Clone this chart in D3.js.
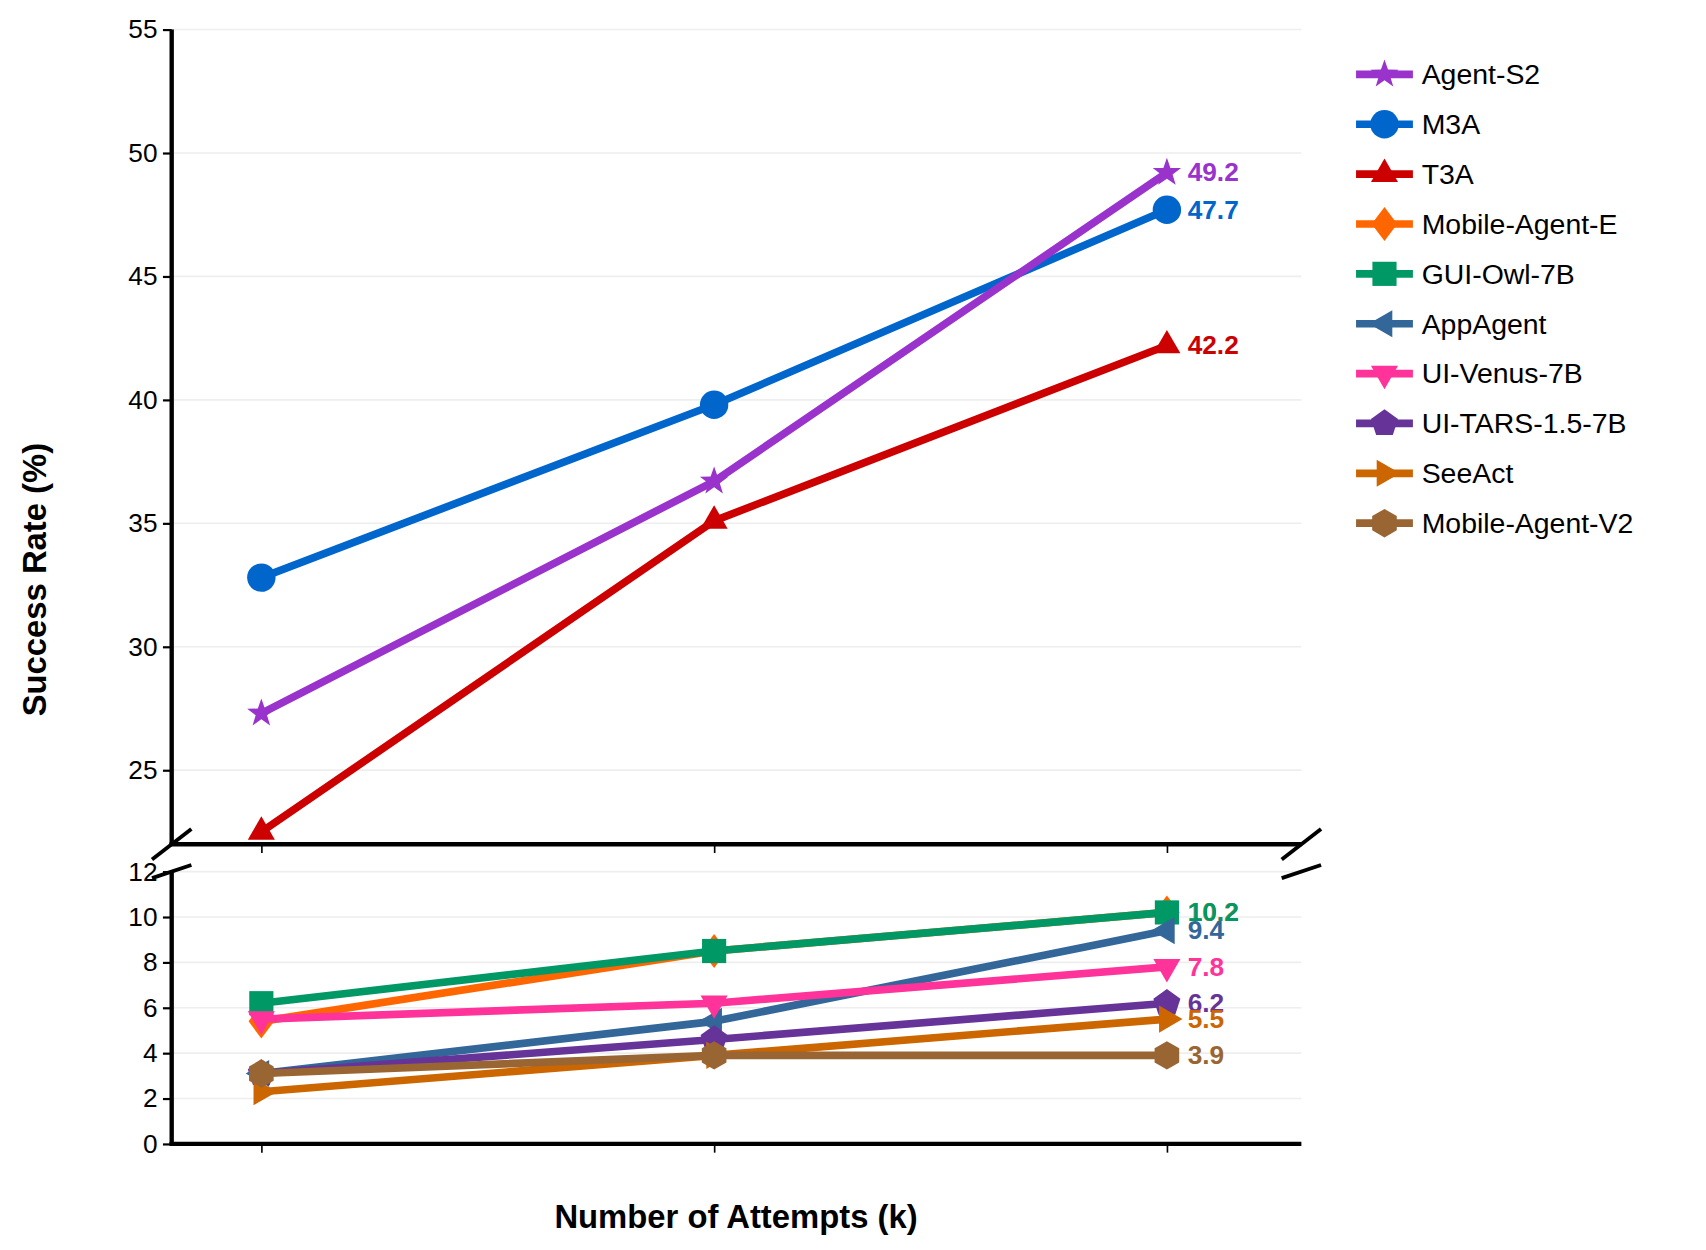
<!DOCTYPE html>
<html><head><meta charset="utf-8">
<script src="https://cdn.jsdelivr.net/npm/d3@7"></script>
<style>body{margin:0;background:#fff}svg{font-family:"Liberation Sans",Arial,sans-serif}</style>
</head><body><svg width="1706" height="1250"></svg>
<script>
const attempts = [1, 2, 3];
const names = ["Agent-S2","M3A","T3A","Mobile-Agent-E","GUI-Owl-7B","AppAgent","UI-Venus-7B","UI-TARS-1.5-7B","SeeAct","Mobile-Agent-V2"];
const colors = ["#9933cc","#0066cc","#cc0000","#ff6600","#009966","#336699","#ff3399","#663399","#cc6600","#996633"];
const values = [
  [27.3, 36.7, 49.2],
  [32.8, 39.8, 47.7],
  [22.5, 35.1, 42.2],
  [5.4, 8.5, 10.2],
  [6.2, 8.5, 10.2],
  [3.1, 5.4, 9.4],
  [5.5, 6.2, 7.8],
  [3.1, 4.6, 6.2],
  [2.3, 3.9, 5.5],
  [3.1, 3.9, 3.9]
];
const panel = [1, 1, 1, 0, 0, 0, 0, 0, 0, 0]; // 1 = upper panel
const shapes = ["star","circle","up","diamond","square","left","down","pent","right","hex"];
const topTicks = [25, 30, 35, 40, 45, 50, 55];
const botTicks = [0, 2, 4, 6, 8, 10, 12];

const S = 1706 / 1560;
const svg = d3.select("svg").append("g").attr("transform", `scale(${S})`);
const L = 157, R = 1190;
const x = d3.scaleLinear().domain([0.802, 3.297]).range([L, R]);
const yT = d3.scaleLinear().domain([22, 55]).range([772, 27]);
const yB = d3.scaleLinear().domain([0, 12]).range([1046, 797]);

function marker(s, r) {
  const poly = (n, rot) => d3.range(n).map(i => { const a = rot + i * 2 * Math.PI / n; return [r * Math.cos(a), r * Math.sin(a)]; });
  let pts;
  switch (s) {
    case "circle": return d3.symbol(d3.symbolCircle, Math.PI * r * r)();
    case "star": pts = d3.range(10).map(i => { const a = -Math.PI / 2 + i * Math.PI / 5, rr = i % 2 ? r * 0.42 : r * 1.05; return [rr * Math.cos(a), rr * Math.sin(a)]; }); break;
    case "up": pts = poly(3, -Math.PI / 2).map(p => [p[0] * 1.1, p[1] * 1.1]); break;
    case "down": pts = poly(3, Math.PI / 2).map(p => [p[0] * 1.1, p[1] * 1.1]); break;
    case "left": pts = poly(3, Math.PI).map(p => [p[0] * 1.1, p[1] * 1.1]); break;
    case "right": pts = poly(3, 0).map(p => [p[0] * 1.1, p[1] * 1.1]); break;
    case "diamond": pts = [[0, -r * 1.2], [r * 0.9, 0], [0, r * 1.2], [-r * 0.9, 0]]; break;
    case "square": pts = [[-r * 0.85, -r * 0.85], [r * 0.85, -r * 0.85], [r * 0.85, r * 0.85], [-r * 0.85, r * 0.85]]; break;
    case "pent": pts = poly(5, -Math.PI / 2); break;
    case "hex": pts = poly(6, -Math.PI / 2); break;
  }
  return "M" + pts.join("L") + "Z";
}

function drawPanel(y, ticks) {
  const g = svg.append("g");
  g.selectAll("line.grid").data(ticks).join("line")
    .attr("x1", L).attr("x2", R).attr("y1", d => y(d)).attr("y2", d => y(d))
    .attr("stroke", "#eeeeee").attr("stroke-width", 1.5);
  const ax = g.append("g").attr("transform", `translate(${L},0)`)
    .call(d3.axisLeft(y).tickValues(ticks).tickSize(8).tickSizeOuter(0));
  ax.select(".domain").remove();
  ax.selectAll("text").attr("font-size", 24).attr("fill", "#000").attr("dx", -2);
  ax.selectAll("line").attr("stroke-width", 2);
  const bx = g.append("g").attr("transform", `translate(0,${y.range()[0]})`)
    .call(d3.axisBottom(x).tickValues(attempts).tickSize(8).tickFormat(""));
  bx.select(".domain").remove();
  bx.selectAll("line").attr("stroke-width", 1.5);
  g.append("line").attr("x1", L).attr("x2", L).attr("y1", y.range()[1]).attr("y2", y.range()[0]).attr("stroke", "#000").attr("stroke-width", 4);
  g.append("line").attr("x1", L - 2).attr("x2", R).attr("y1", y.range()[0]).attr("y2", y.range()[0]).attr("stroke", "#000").attr("stroke-width", 4);
}
drawPanel(yT, topTicks);
drawPanel(yB, botTicks);

// break marks
[[L, 772], [L, 797], [R, 772], [R, 797]].forEach((p, i) => {
  const top = i % 2 === 0;
  svg.append("line")
    .attr("x1", p[0] - 18).attr("y1", p[1] + (top ? 14 : 6))
    .attr("x2", p[0] + 18).attr("y2", p[1] - (top ? 14 : 6))
    .attr("stroke", "#000").attr("stroke-width", 3.5);
});

const line = y => d3.line().x((d, i) => x(attempts[i])).y(d => y(d));
// upper series: Agent-S2 on top; lower series: later ones on top
const order = [2, 1, 0, 3, 4, 5, 6, 7, 8, 9];
order.forEach(k => {
  const y = panel[k] ? yT : yB;
  const g = svg.append("g");
  g.append("path").datum(values[k]).attr("d", line(y))
    .attr("fill", "none").attr("stroke", colors[k]).attr("stroke-width", 7).attr("stroke-linejoin", "round");
  g.selectAll("path.m").data(values[k]).join("path").attr("class", "m")
    .attr("transform", (d, i) => `translate(${x(attempts[i])},${y(d)})`)
    .attr("d", marker(shapes[k], 13)).attr("fill", colors[k]);
  const last = values[k][2];
  g.append("text").attr("x", x(3) + 19).attr("y", y(last) + 8)
    .attr("font-size", 24).attr("font-weight", "bold").attr("fill", colors[k]).text(last.toFixed(1));
});

// legend
const lg = svg.append("g").attr("transform", "translate(1240,68)");
names.forEach((n, k) => {
  const r = lg.append("g").attr("transform", `translate(0,${k * 45.6})`);
  r.append("line").attr("x1", 0).attr("x2", 52).attr("stroke", colors[k]).attr("stroke-width", 7);
  r.append("path").attr("transform", "translate(26,0)").attr("d", marker(shapes[k], 13)).attr("fill", colors[k]);
  r.append("text").attr("x", 60).attr("y", 9).attr("font-size", 26).attr("fill", "#000").text(n);
});

svg.append("text").attr("transform", "translate(42,530) rotate(-90)").attr("text-anchor", "middle")
  .attr("font-size", 30).attr("font-weight", "bold").text("Success Rate (%)");
svg.append("text").attr("x", 673).attr("y", 1123).attr("text-anchor", "middle")
  .attr("font-size", 30).attr("font-weight", "bold").text("Number of Attempts (k)");
</script></body></html>
